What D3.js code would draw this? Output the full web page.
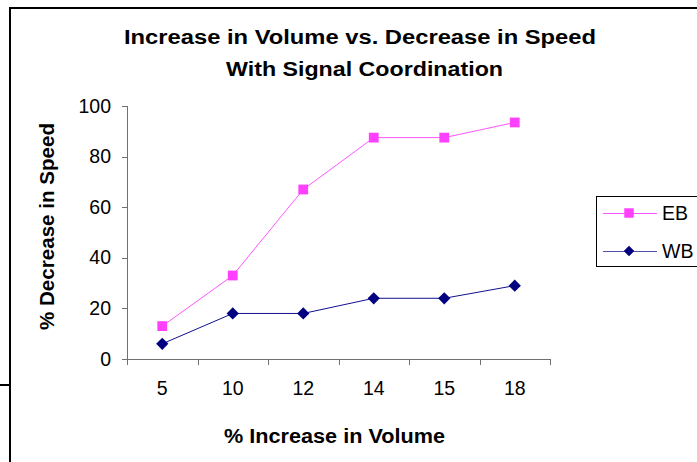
<!DOCTYPE html>
<html><head><meta charset="utf-8">
<script src="https://cdn.jsdelivr.net/npm/d3@7"></script>
<style>body{margin:0;background:#fff}svg{display:block;font-family:"Liberation Sans",Arial,sans-serif}</style>
</head><body>
<svg id="c" width="697" height="462"></svg>
<script>
const categories = ["5","10","12","14","15","18"];
const ebValues = [13, 33, 67, 87.5, 87.5, 93.5];
const wbValues = [6, 18, 18, 24, 24, 29];
const yTicks = [0, 20, 40, 60, 80, 100];
const seriesNames = ["EB","WB"];
const titleLines = ["Increase in Volume vs. Decrease in Speed","With Signal Coordination"];

(function(){
const svg = d3.select("#c");
svg.append("line").attr("x1",10).attr("y1",8).attr("x2",697).attr("y2",8).attr("stroke","#000").attr("stroke-width",2);
svg.append("line").attr("x1",10).attr("y1",7).attr("x2",10).attr("y2",462).attr("stroke","#000").attr("stroke-width",2);
svg.append("line").attr("x1",0).attr("y1",385).attr("x2",10).attr("y2",385).attr("stroke","#000").attr("stroke-width",2);

const pL=127, pR=550, pT=106, pB=359;
const x = d3.scaleBand().domain(categories).range([pL,pR]);
const y = d3.scaleLinear().domain([0,100]).range([pB,pT]);

const axisColor="#707070";
const gx = svg.append("g").attr("transform",`translate(0,${pB})`);
gx.append("line").attr("x1",pL).attr("x2",pR+1).attr("y1",0.5).attr("y2",0.5).attr("stroke",axisColor);
const xt = [...categories.map(c=>x(c)), pR];
xt.forEach(v=>gx.append("line").attr("x1",Math.round(v)+0.5).attr("x2",Math.round(v)+0.5).attr("y1",0).attr("y2",6).attr("stroke",axisColor));
categories.forEach(c=>gx.append("text").attr("x",x(c)+x.bandwidth()/2).attr("y",36).attr("text-anchor","middle").attr("font-size",19.5).text(c));

const gy = svg.append("g");
gy.append("line").attr("x1",pL+0.5).attr("x2",pL+0.5).attr("y1",pT).attr("y2",pB).attr("stroke",axisColor);
yTicks.forEach(t=>{
  gy.append("line").attr("x1",pL-5).attr("x2",pL).attr("y1",Math.round(y(t))+0.5).attr("y2",Math.round(y(t))+0.5).attr("stroke",axisColor);
  gy.append("text").attr("x",pL-16).attr("y",y(t)+6.5).attr("text-anchor","end").attr("font-size",19.5).text(t);
});

const tl = [[360,43.5,472],[364.5,76,277]];
titleLines.forEach((t,i)=>svg.append("text").attr("x",tl[i][0]).attr("y",tl[i][1]).attr("text-anchor","middle").attr("font-weight","bold").attr("font-size",20)
  .attr("textLength",tl[i][2]).attr("lengthAdjust","spacingAndGlyphs").text(t));
svg.append("text").attr("x",334.5).attr("y",443).attr("text-anchor","middle").attr("font-weight","bold").attr("font-size",20)
  .attr("textLength",221).attr("lengthAdjust","spacingAndGlyphs").text("% Increase in Volume");
svg.append("text").attr("transform","translate(54,226.5) rotate(-90)").attr("text-anchor","middle").attr("font-weight","bold").attr("font-size",20)
  .attr("textLength",207).attr("lengthAdjust","spacingAndGlyphs").text("% Decrease in Speed");

const cx = c=>x(c)+x.bandwidth()/2;
const line = d3.line().x((d,i)=>cx(categories[i])).y(d=>y(d));
const ebColor="#ff40ff", ebLine="#ff55ff", wbColor="#000080", wbLine="#101090";
svg.append("path").datum(ebValues).attr("d",line).attr("fill","none").attr("stroke",ebLine).attr("stroke-width",1);
svg.append("path").datum(wbValues).attr("d",line).attr("fill","none").attr("stroke",wbLine).attr("stroke-width",1);
const diamondType = {draw(ctx,size){const r=Math.sqrt(size)/2;ctx.moveTo(0,-r);ctx.lineTo(r,0);ctx.lineTo(0,r);ctx.lineTo(-r,0);ctx.closePath();}};
const sq = d3.symbol().type(d3.symbolSquare).size(96);
const dm = d3.symbol().type(diamondType).size(150);
svg.selectAll(".eb").data(ebValues).join("path").attr("class","eb").attr("d",sq).attr("transform",(d,i)=>`translate(${cx(categories[i])},${y(d)})`).attr("fill",ebColor);
svg.selectAll(".wb").data(wbValues).join("path").attr("class","wb").attr("d",dm).attr("transform",(d,i)=>`translate(${cx(categories[i])},${y(d)})`).attr("fill",wbColor);

const sqL = d3.symbol().type(d3.symbolSquare).size(90);
const dmL = d3.symbol().type(diamondType).size(110);
const lg = svg.append("g");
lg.append("rect").attr("x",596.5).attr("y",196.5).attr("width",120).attr("height",70).attr("fill","#fff").attr("stroke","#000");
[[213,ebLine,ebColor,sqL,seriesNames[0]],[251,"#5050b0",wbColor,dmL,seriesNames[1]]].forEach(([yy,lc,mc,sym,name])=>{
  lg.append("line").attr("x1",603).attr("x2",657).attr("y1",yy+0.5).attr("y2",yy+0.5).attr("stroke",lc).attr("stroke-width",1);
  lg.append("path").attr("d",sym).attr("transform",`translate(629,${yy})`).attr("fill",mc);
  lg.append("text").attr("x",662).attr("y",yy+6.5).attr("font-size",19.5).text(name);
});
})();
</script>
</body></html>
